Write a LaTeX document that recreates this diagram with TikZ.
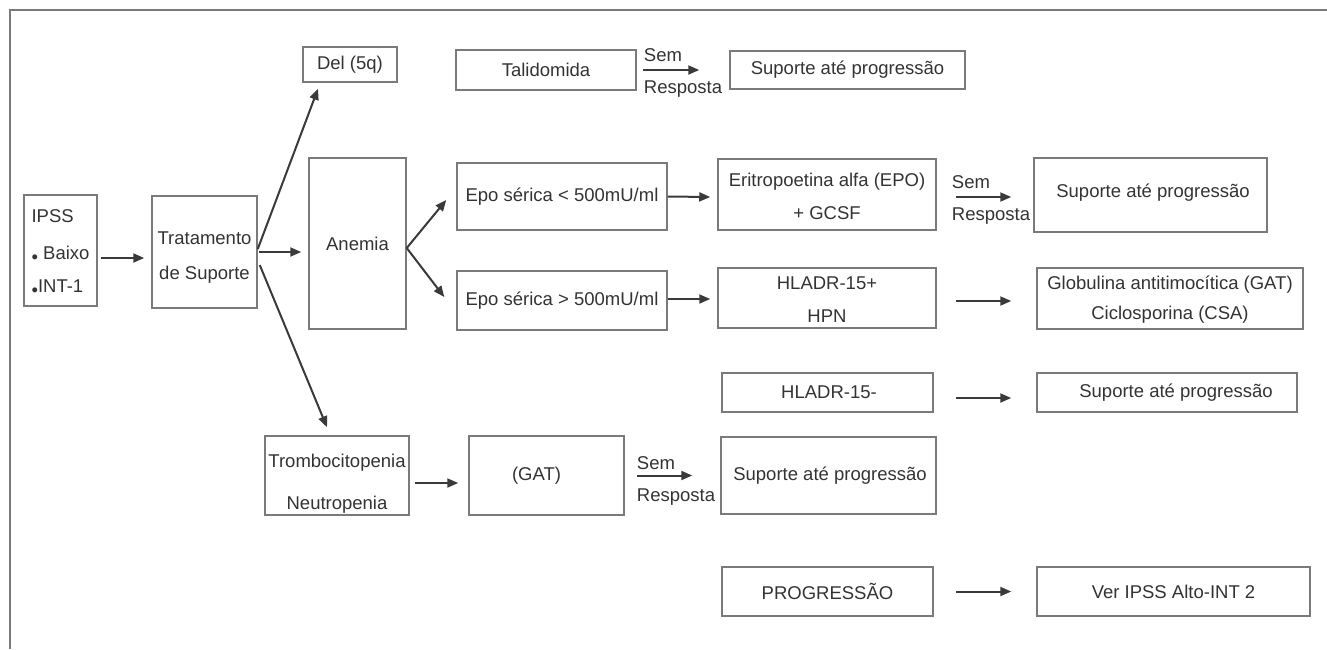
\documentclass[tikz,border=0pt]{standalone}
\usepackage{fontspec}
\setmainfont{Liberation Sans}
\usetikzlibrary{arrows.meta, positioning}
\definecolor{boxgray}{HTML}{7A7A7A}
\definecolor{txtgray}{HTML}{333333}
\definecolor{arrgray}{HTML}{3A3A3A}
\newcommand{\fs}{\fontsize{18.5}{22}\selectfont}
\newcommand{\blt}{\raisebox{-3.5pt}{\textbullet}}
\newcommand{\stk}[3]{\raisebox{#1}[0pt][0pt]{\begin{tabular}{@{}#2@{}}#3\end{tabular}}}

\begin{document}
\begin{tikzpicture}[x=1pt, y=-1pt,
    box/.style={draw=boxgray, line width=1.5pt, inner sep=0pt, align=center, text=txtgray, font=\fs},
    wh/.style 2 args={minimum width=#1pt, minimum height=#2pt},
    lbl/.style={inner sep=0pt, text=txtgray, font=\fs},
    arr/.style={draw=arrgray, line width=2pt, -{Triangle[length=11pt, width=9pt]}}]
  \useasboundingbox (0,0) rectangle (1327,649);
  \draw[boxgray, line width=1.6pt] (10,649) -- (10,10) -- (1327,10);

  \node[box, wh={73}{111}] (ipss) at (60.5,250.5)
    {\stk{-7.4pt}{l}{IPSS\\[15pt]\blt\ Baixo\\[11pt]\blt INT-1}};
  \node[box, wh={105}{112}] (trat) at (204.5,252) {\stk{-10.4pt}{c}{Tratamento\\[13pt]de Suporte}};
  \node[box, wh={94}{35}] (del) at (350,64.5) {Del (5q)};
  \node[box, wh={97}{171}] (anemia) at (357.5,243.5) {Anemia};
  \node[box, wh={180}{40}] (talid) at (546,70) {Talidomida};
  \node[box, wh={235}{38}] (sup1) at (847.5,70) {Suporte até progressão};
  \node[box, wh={210}{67}] (epolow) at (562,196.5) {Epo sérica < 500mU/ml};
  \node[box, wh={218}{71}] (erit) at (827,194.5) {\stk{-8.9pt}{c}{Eritropoetina alfa (EPO)\\[11pt]+ GCSF}};
  \node[box, wh={233}{74}] (sup2) at (1150.5,195) {\raisebox{-2pt}[0pt][0pt]{\hspace*{5pt}Suporte até progressão}};
  \node[box, wh={210}{59}] (epohigh) at (562,300.5) {Epo sérica > 500mU/ml};
  \node[box, wh={218}{60}] (hlapos) at (827,298) {\stk{-8.4pt}{c}{HLADR-15+\\[11pt]HPN}};
  \node[box, wh={266}{61}] (glob) at (1170,298.5) {\stk{-6.4pt}{c}{Globulina antitimocítica (GAT)\\[8pt]Ciclosporina (CSA)}};
  \node[box, wh={211}{39}] (hlaneg) at (827.5,392.5) {\hspace*{3pt}HLADR-15-};
  \node[box, wh={260}{39}] (sup3) at (1167,392.5) {\hspace*{18pt}Suporte até progressão};
  \node[box, wh={144}{79}] (tromb) at (337,475.5) {\stk{-13.4pt}{c}{Trombocitopenia\\[20pt]Neutropenia}};
  \node[box, wh={155}{79}] (gat) at (546.5,475.5) {(GAT)\hspace*{20pt}};
  \node[box, wh={215}{77}] (sup4) at (828.5,475.5) {\hspace*{3pt}Suporte até progressão};
  \node[box, wh={211}{49}] (prog) at (827.5,591.5) {PROGRESSÃO};
  \node[box, wh={273}{49}] (ver) at (1173.5,591.5) {Ver IPSS Alto-INT 2};

  \draw[arr] ([xshift=3pt,yshift=-7.5pt]ipss.east) -- ([xshift=-7pt,yshift=-6pt]trat.west);
  \draw[arr] ([yshift=3pt]trat.east) -- ([xshift=-32pt,yshift=-6pt]del.south);
  \draw[arr] ([xshift=1pt]trat.east) -- ([xshift=-7pt,yshift=-8.5pt]anemia.west);
  \draw[arr] ([xshift=2pt,yshift=-13pt]trat.east) -- ([xshift=-10pt,yshift=8pt]tromb.north);
  \draw[arr] ([yshift=-4.5pt]anemia.east) -- ([xshift=-10pt,yshift=-3.5pt]epolow.west);
  \draw[arr] ([yshift=-4.5pt]anemia.east) -- ([xshift=-12pt,yshift=3.5pt]epohigh.west);
  \draw[arr] (epolow.east) -- ([xshift=-7pt,yshift=-2.5pt]erit.west);
  \draw[arr] ([yshift=1.5pt]epohigh.east) -- ([xshift=-7pt,yshift=-1pt]hlapos.west);
  \draw[arr] ([xshift=19pt,yshift=-3pt]hlapos.east) -- ([xshift=-25pt,yshift=-2.5pt]glob.west);
  \draw[arr] ([xshift=22pt,yshift=-5.5pt]hlaneg.east) -- ([xshift=-25pt,yshift=-5.5pt]sup3.west);
  \draw[arr] ([xshift=22pt]prog.east) -- ([xshift=-25pt]ver.west);
  \draw[arr] ([xshift=5pt,yshift=-7.5pt]tromb.east) -- ([xshift=-10pt,yshift=-7.5pt]gat.west);

  \coordinate (s1) at ([xshift=6pt]talid.east);
  \coordinate (s2) at ([xshift=19pt,yshift=-2.5pt]erit.east);
  \coordinate (s3) at ([xshift=12pt]gat.east);
  \draw[arr] (s1) -- ([xshift=-30pt]sup1.west);
  \draw[arr] (s2) -- ([xshift=-22pt,yshift=-2pt]sup2.west);
  \draw[arr] (s3) -- ([xshift=-28pt]sup4.west);
  \node[lbl, above right=8pt and 1pt of s1] (sem1) {Sem};
  \node[lbl, below right=11pt and 1pt of s1] (resp1) {Resposta};
  \node[lbl, above right=8pt and -4pt of s2] (sem2) {Sem};
  \node[lbl, below right=11pt and -4pt of s2] (resp2) {Resposta};
  \node[lbl, above right=6pt and 0pt of s3] (sem3) {Sem};
  \node[lbl, below right=13pt and 0pt of s3] (resp3) {Resposta};
\end{tikzpicture}
\end{document}
